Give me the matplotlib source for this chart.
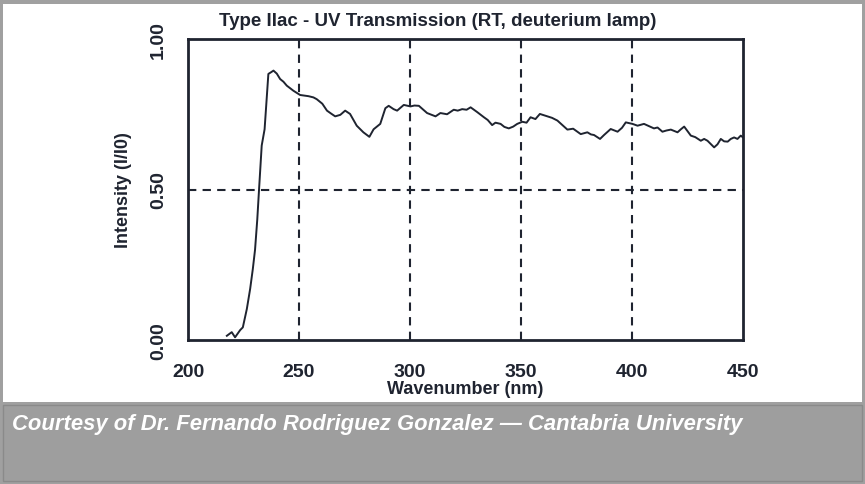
import matplotlib
matplotlib.use("Agg")
import matplotlib.pyplot as plt
from matplotlib.patches import Rectangle

wavelength = [217.5, 219.7, 221.2, 223.5, 224.7, 226.5, 228.0, 229.2, 230.2, 231.2, 232.0, 233.2,
              234.5, 236.2, 237.5, 238.5, 240.0, 241.5, 243.0, 244.5, 247.5, 250.5, 254.3, 256.5,
              258.0, 260.5, 262.6, 264.5, 266.3, 268.6, 270.8, 273.0, 276.0, 279.0, 281.7, 283.6,
              286.6, 288.9, 290.4, 292.6, 294.2, 297.2, 300.2, 302.0, 304.0, 307.7, 311.5, 313.7,
              316.7, 319.7, 321.5, 323.5, 325.5, 327.3, 330.3, 333.3, 335.0, 337.0, 338.5, 340.8,
              342.5, 344.5, 346.5, 348.3, 350.6, 352.5, 354.3, 356.5, 358.5, 361.9, 364.0, 366.4,
              368.5, 370.9, 373.5, 376.9, 379.9, 381.5, 382.9, 385.6, 387.4, 390.4, 393.5, 395.5,
              397.2, 400.2, 402.5, 405.4, 407.5, 409.9, 411.5, 413.7, 415.5, 417.5, 420.5, 422.0,
              423.5, 426.5, 428.5, 431.0, 432.5, 434.0, 437.0, 438.5, 440.0, 441.5, 443.1, 444.5,
              446.0, 447.5, 449.0, 450.0]
intensity = [0.014, 0.026, 0.009, 0.033, 0.042, 0.103, 0.170, 0.236, 0.300, 0.400, 0.500, 0.646,
             0.700, 0.884, 0.890, 0.895, 0.885, 0.867, 0.858, 0.845, 0.828, 0.814, 0.810, 0.806,
             0.800, 0.785, 0.762, 0.752, 0.743, 0.748, 0.762, 0.751, 0.712, 0.690, 0.675, 0.700,
             0.718, 0.770, 0.778, 0.767, 0.762, 0.781, 0.776, 0.779, 0.778, 0.754, 0.743, 0.754,
             0.750, 0.765, 0.762, 0.767, 0.765, 0.773, 0.757, 0.740, 0.731, 0.714, 0.722, 0.718,
             0.708, 0.703, 0.709, 0.718, 0.725, 0.722, 0.740, 0.734, 0.751, 0.743, 0.738, 0.729,
             0.715, 0.699, 0.702, 0.684, 0.690, 0.683, 0.681, 0.668, 0.681, 0.701, 0.692, 0.705,
             0.723, 0.718, 0.712, 0.718, 0.711, 0.703, 0.706, 0.692, 0.696, 0.699, 0.690, 0.700,
             0.709, 0.679, 0.674, 0.662, 0.668, 0.662, 0.640, 0.650, 0.668, 0.660, 0.659, 0.668,
             0.673, 0.668, 0.679, 0.673]
x_ticks = [200, 250, 300, 350, 400, 450]
y_ticks = [0.0, 0.5, 1.0]
y_tick_labels = ["0.00", "0.50", "1.00"]

W, H = 865, 485
fig = plt.figure(figsize=(W / 100, H / 100), dpi=100)
fig.patch.set_facecolor("#a0a0a0")

def fx(px):
    return px / W

def fy(py):
    return 1 - py / H

# white chart area
fig.patches.append(Rectangle((fx(3), fy(403)), fx(859), 398 / H, transform=fig.transFigure,
                             facecolor="white", edgecolor="none", zorder=-2))
# caption band
fig.patches.append(Rectangle((fx(3), fy(482)), fx(859), 76 / H, transform=fig.transFigure,
                             facecolor="#9e9e9e", edgecolor="#8a8a8a", lw=1, zorder=-2))

font = ["Liberation Sans", "DejaVu Sans"]
ink = "#1f2430"

ax = fig.add_axes([fx(188), fy(341), fx(743 - 188), (341 - 40) / H])
ax.set_zorder(2)
ax.set_facecolor("white")
ax.plot(wavelength, intensity, color=ink, lw=1.4)
ax.set_xlim(200, 450)
ax.set_ylim(0, 1)
for xv in x_ticks[1:-1]:
    ax.axvline(xv, color=ink, lw=1.5, ls=(0, (4, 3)))
ax.axhline(0.5, color=ink, lw=1.5, ls=(0, (4, 3)))
for s in ax.spines.values():
    s.set_color(ink)
    s.set_linewidth(2)
ax.set_xticks(x_ticks)
ax.set_xticklabels([str(v) for v in x_ticks], family=font, fontweight="bold", fontsize=14, color=ink)
ax.set_yticks(y_ticks)
ax.set_yticklabels(y_tick_labels, family=font, fontweight="bold", fontsize=14, color=ink,
                   rotation=90, va="center")
ax.tick_params(axis="x", length=0, pad=16.5)
ax.tick_params(axis="y", length=0, pad=15)
ax.set_xlabel("Wavenumber (nm)", family=font, fontweight="bold", fontsize=13, color=ink, labelpad=0)
ax.set_ylabel("Intensity (I/I0)", family=font, fontweight="bold", fontsize=13, color=ink, labelpad=13)

fig.text(fx(438), fy(22), "Type IIac - UV Transmission (RT, deuterium lamp)", family=font,
         fontweight="bold", fontsize=13.5, color=ink, ha="center", va="center")

fig.text(fx(12), fy(425), "Courtesy of Dr. Fernando Rodriguez Gonzalez \u2014 Cantabria University",
         family=font, fontweight="bold", style="italic", fontsize=15.8, color="white", va="center")

fig.savefig("out.png", dpi=100, facecolor=fig.get_facecolor())
